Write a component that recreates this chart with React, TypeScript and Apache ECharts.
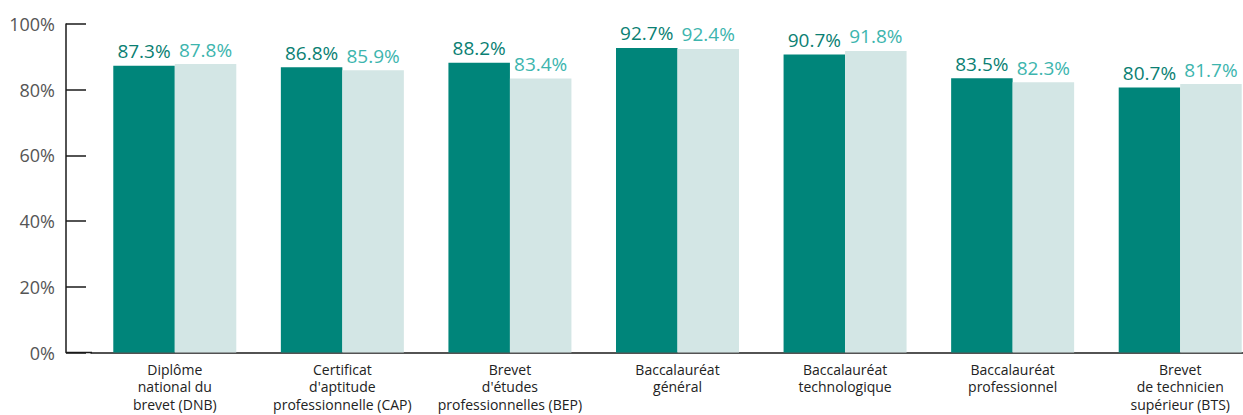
import React, { useEffect, useRef } from "react";
import * as echarts from "echarts";

const categories = [
  "Diplôme\nnational du\nbrevet (DNB)",
  "Certificat\nd'aptitude\nprofessionnelle (CAP)",
  "Brevet\nd'études\nprofessionnelles (BEP)",
  "Baccalauréat\ngénéral",
  "Baccalauréat\ntechnologique",
  "Baccalauréat\nprofessionnel",
  "Brevet\nde technicien\nsupérieur (BTS)",
];
const seriesA = [87.3, 86.8, 88.2, 92.7, 90.7, 83.5, 80.7];
const seriesB = [87.8, 85.9, 83.4, 92.4, 91.8, 82.3, 81.7];
const yTicks = [0, 20, 40, 60, 80, 100];

const FONT = "'Open Sans', 'Noto Sans', sans-serif";

export default function App() {
  const ref = useRef<HTMLDivElement>(null);
  useEffect(() => {
    document.body.style.margin = "0";
    const chart = echarts.init(ref.current!, null, { renderer: "svg" });
    chart.setOption({
      animation: false,
      grid: {
        left: 91,
        right: 0,
        top: 24,
        bottom: 62.5,
        containLabel: false,
        outerBoundsMode: "none",
      },
      xAxis: {
        type: "category",
        data: categories,
        axisLine: { show: true, lineStyle: { color: "#1a1a1a", width: 1.5 } },
        axisTick: { show: false },
        axisLabel: {
          interval: 0,
          margin: 8,
          fontFamily: FONT,
          fontSize: 14,
          lineHeight: 17.5,
          color: "#222",
          align: "center",
        },
      },
      yAxis: {
        type: "value",
        min: yTicks[0],
        max: yTicks[yTicks.length - 1],
        interval: 20,
        offset: 25,
        splitLine: { show: false },
        axisLine: { show: true, lineStyle: { color: "#1a1a1a", width: 1.5 } },
        axisTick: { show: true, inside: true, length: 20, lineStyle: { color: "#1a1a1a", width: 1.5 } },
        axisLabel: {
          formatter: "{value}%",
          margin: 11,
          fontFamily: FONT,
          fontSize: 18,
          color: "#555",
        },
      },
      graphic: [
        {
          type: "line",
          shape: { x1: 66, y1: 352.5, x2: 92, y2: 352.5 },
          style: { stroke: "#1a1a1a", lineWidth: 1.5 },
        },
      ],
      series: [
        {
          type: "bar",
          data: seriesA,
          barWidth: 61.5,
          barGap: "0%",
          itemStyle: { color: "#00857A" },
          label: {
            show: true,
            position: "top",
            distance: 5,
            formatter: (p: any) => p.value.toFixed(1) + "%",
            fontFamily: FONT,
            fontSize: 19,
            fontWeight: 500,
            color: "#0B7F73",
          },
        },
        {
          type: "bar",
          data: seriesB,
          barWidth: 61.5,
          barGap: "0%",
          itemStyle: { color: "#D3E6E5" },
          label: {
            show: true,
            position: "top",
            distance: 5,
            formatter: (p: any) => p.value.toFixed(1) + "%",
            fontFamily: FONT,
            fontSize: 19,
            color: "#3DB5AE",
          },
        },
      ],
    });
    return () => chart.dispose();
  }, []);
  return (
    <div style={{ width: 1243, height: 415, overflow: "hidden", position: "relative", background: "#fff" }}>
      <div ref={ref} style={{ width: 1264, height: 415 }} />
    </div>
  );
}
